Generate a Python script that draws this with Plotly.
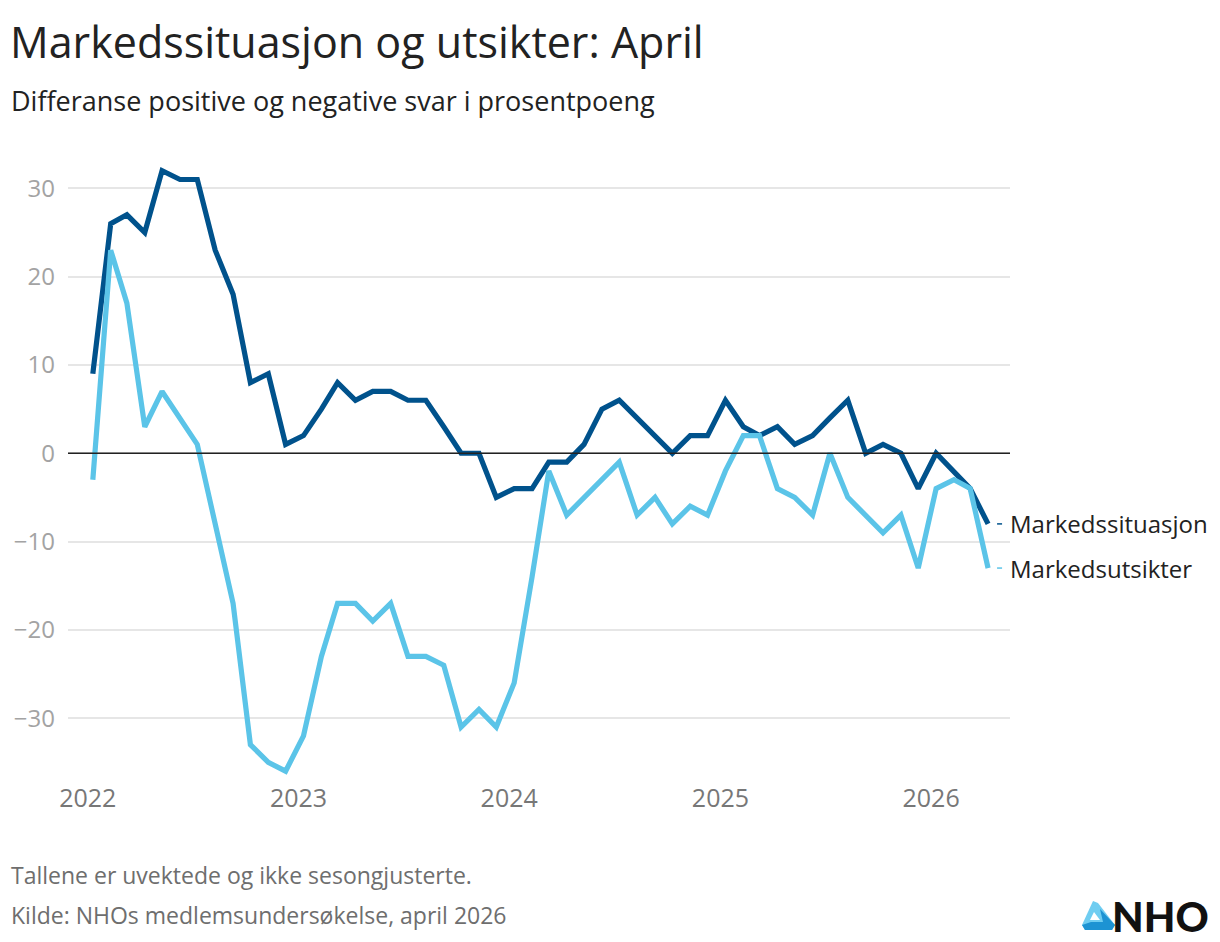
import plotly.graph_objects as go
import pandas as pd

# ---- data ----
dates = pd.date_range("2022-01-01", "2026-04-01", freq="MS")
markedssituasjon = [
    9, 26, 27, 25, 32, 31, 31, 23, 18, 8, 9, 1,
    2, 5, 8, 6, 7, 7, 6, 6, 3, 0, 0, -5,
    -4, -4, -1, -1, 1, 5, 6, 4, 2, 0, 2, 2,
    6, 3, 2, 3, 1, 2, 4, 6, 0, 1, 0, -4,
    0, -2, -4, -8,
]
markedsutsikter = [
    -3, 23, 17, 3, 7, 4, 1, -8, -17, -33, -35, -36,
    -32, -23, -17, -17, -19, -17, -23, -23, -24, -31, -29, -31,
    -26, -14, -2, -7, -5, -3, -1, -7, -5, -8, -6, -7,
    -2, 2, 2, -4, -5, -7, 0, -5, -7, -9, -7, -13,
    -4, -3, -4, -13,
]
series_names = ["Markedssituasjon", "Markedsutsikter"]
series_colors = ["#00528c", "#5bc4e8"]
y_ticks = [-30, -20, -10, 0, 10, 20, 30]
x_ticks = ["2022-01-01", "2023-01-01", "2024-01-01", "2025-01-01", "2026-01-01"]
x_tick_labels = ["2022", "2023", "2024", "2025", "2026"]

title = "Markedssituasjon og utsikter: April"
subtitle = "Differanse positive og negative svar i prosentpoeng"
note = "Tallene er uvektede og ikke sesongjusterte."
source = "Kilde: NHOs medlemsundersøkelse, april 2026"

# ---- layout geometry (pixels of the 1220x942 page) ----
OFF = 8                      # page body margin
W, H = 1220 - OFF, 942 - OFF
PLOT_L, PLOT_R, PLOT_T, PLOT_B = 68, 1010, 153, 780   # plot area in page pixels
L, T = PLOT_L - OFF, PLOT_T - OFF
R, B = W - (PLOT_R - OFF), H - (PLOT_B - OFF)
PW, PH = W - L - R, H - T - B
FONT = "Open Sans"


def px(xp):
    return (xp - PLOT_L) / PW


def py(yp):
    return (PLOT_B - yp) / PH


fig = go.Figure()
for name, vals, col in zip(series_names, [markedssituasjon, markedsutsikter], series_colors):
    fig.add_trace(go.Scatter(x=dates, y=vals, mode="lines", name=name,
                             line=dict(color=col, width=5.2), hoverinfo="x+y"))

annotations = []
shapes = []
# end labels with short connectors
for name, vals, col in zip(series_names, [markedssituasjon, markedsutsikter], series_colors):
    annotations.append(dict(x=dates[-1], y=vals[-1], xref="x", yref="y", text=name,
                            showarrow=False, xanchor="left", yanchor="middle", xshift=20,
                            font=dict(family=FONT, size=24, color="#222222")))
    shapes.append(dict(type="line", xref="x", yref="y", xsizemode="pixel", xanchor=dates[-1],
                       x0=9, x1=14, y0=vals[-1], y1=vals[-1],
                       line=dict(color=col, width=1.5)))

# zero line
shapes.append(dict(type="line", xref="paper", yref="y", x0=0, x1=1, y0=0, y1=0,
                   line=dict(color="#222222", width=1.5), layer="above"))

# titles and footer
annotations += [
    dict(x=px(8), y=py(41), xref="paper", yref="paper", text=title, showarrow=False,
         xanchor="left", yanchor="middle", font=dict(family=FONT, size=43, color="#222222")),
    dict(x=px(9), y=py(100), xref="paper", yref="paper", text=subtitle, showarrow=False,
         xanchor="left", yanchor="middle", font=dict(family=FONT, size=27, color="#222222")),
    dict(x=px(9), y=py(875), xref="paper", yref="paper", text=note, showarrow=False,
         xanchor="left", yanchor="middle", font=dict(family=FONT, size=23, color="#6e6e6e")),
    dict(x=px(9), y=py(915), xref="paper", yref="paper", text=source, showarrow=False,
         xanchor="left", yanchor="middle", font=dict(family=FONT, size=23, color="#6e6e6e")),
    dict(x=px(1110), y=py(916), xref="paper", yref="paper", text="NHO", showarrow=False,
         xanchor="left", yanchor="middle",
         font=dict(family="Lato", size=41, color="#111111", weight=900)),
]


# NHO logo icon
def path(pts):
    return "M " + " L ".join(f"{px(a)},{py(b)}" for a, b in pts) + " Z"


shapes += [
    dict(type="path", xref="paper", yref="paper",
         path=path([(1093, 901), (1098, 903), (1115, 925), (1112, 930), (1085, 930), (1082, 925)]),
         fillcolor="#6fcdf1", line=dict(width=0), layer="above"),
    dict(type="path", xref="paper", yref="paper",
         path=path([(1100, 909), (1115, 925), (1112, 930), (1085, 930), (1082, 925), (1091, 922), (1103, 922)]),
         fillcolor="#1d93d3", line=dict(width=0), layer="above"),
    dict(type="path", xref="paper", yref="paper",
         path=path([(1094, 912), (1100, 920), (1090, 920)]),
         fillcolor="#ffffff", line=dict(width=0), layer="above"),
]

fig.update_layout(
    width=W, height=H,
    margin=dict(l=L, r=R, t=T, b=B, pad=0),
    paper_bgcolor="white", plot_bgcolor="white",
    showlegend=False,
    font=dict(family=FONT),
    annotations=annotations,
    shapes=shapes,
    xaxis=dict(type="date", range=["2021-11-19", "2026-05-09"],
               tickvals=x_ticks, ticktext=x_tick_labels, automargin=False,
               showgrid=False, zeroline=False, showline=False, ticks="",
               ticklabelshift=-5, ticklabelstandoff=1,
               tickfont=dict(family=FONT, size=25, color="#777777")),
    yaxis=dict(range=[-37, 34], tickvals=y_ticks, showgrid=True, automargin=False,
               gridcolor="#e6e6e6", gridwidth=1.5, zeroline=False, showline=False,
               ticks="", ticklabelstandoff=12,
               tickfont=dict(family=FONT, size=24, color="#a3a3a3")),
)

fig.write_html("out.html")
